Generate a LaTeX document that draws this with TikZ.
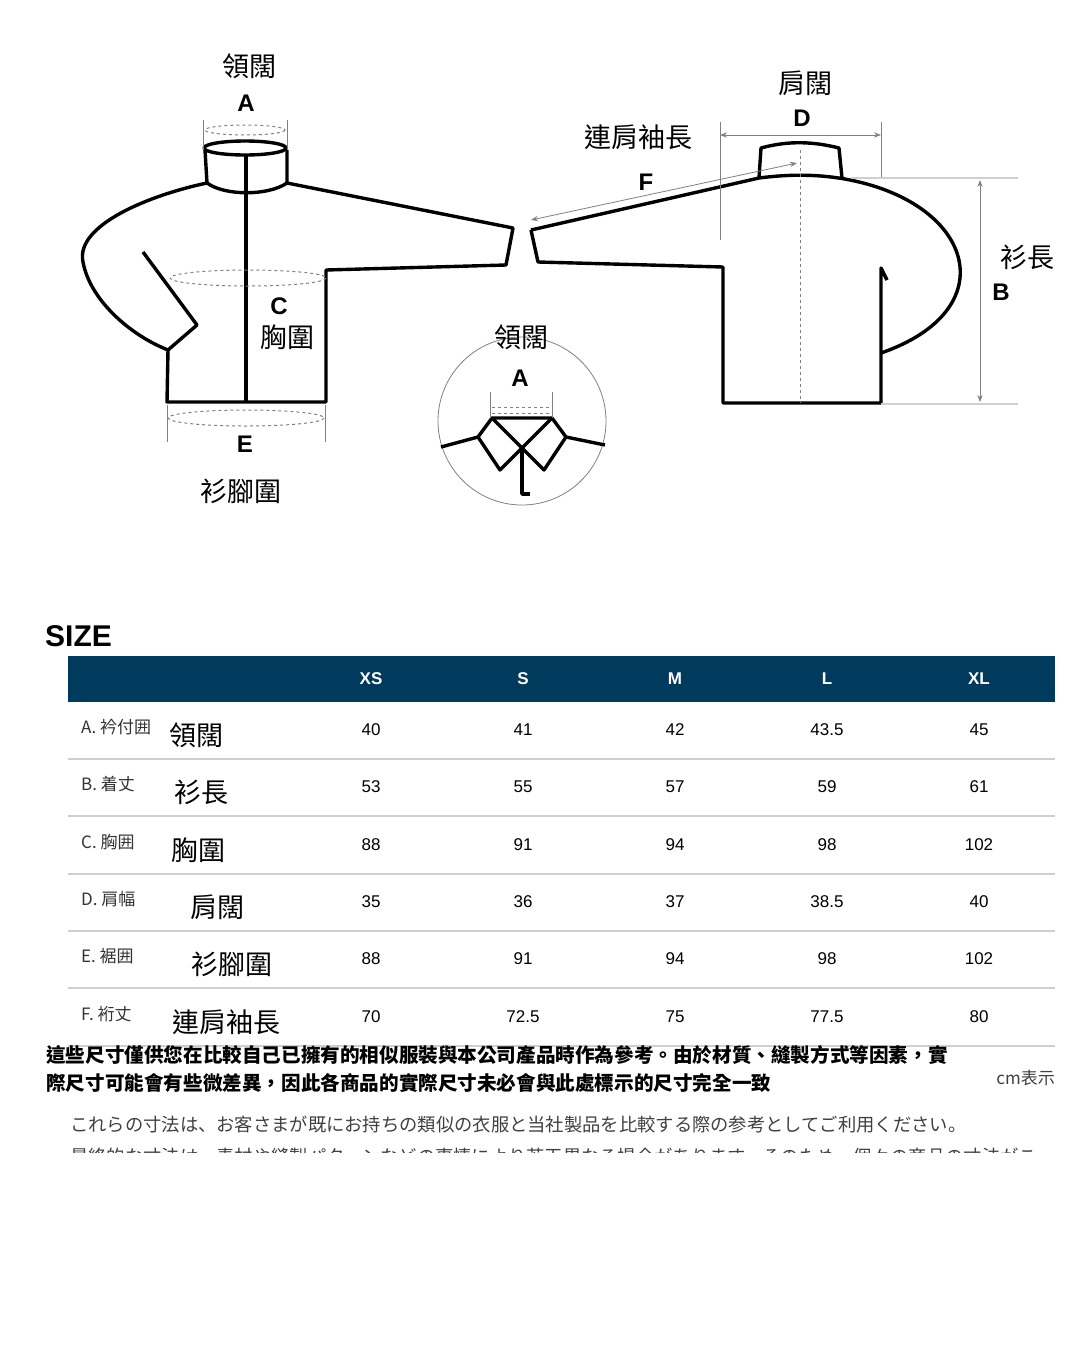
\documentclass[tikz,border=0pt]{standalone}
\usepackage{fontspec}
\setmainfont{Liberation Sans}
\newfontfamily\cjk{Noto Sans CJK TC}
\newfontfamily\cjkjp{Noto Sans CJK JP}
\usetikzlibrary{arrows.meta}
\definecolor{headblue}{HTML}{003A5C}
\definecolor{rulegray}{HTML}{CFCFCF}
\tikzset{
  outline/.style={line width=3.4pt,line join=round},
  dimline/.style={gray,line width=0.8pt},
  dashring/.style={gray,dashed,line width=1pt},
  biglab/.style={font=\cjk\fontsize{27}{27}\selectfont,inner sep=0pt},
  letter/.style={font=\bfseries\fontsize{24}{24}\selectfont,inner sep=0pt},
  cell/.style={font=\fontsize{17}{17}\selectfont,inner sep=0pt},
}
\begin{document}
\begin{tikzpicture}[x=1pt,y=-1pt]
                \useasboundingbox (0,0) rectangle (1080,1350);
                % front view
                \draw[outline] (207,183) .. controls (150,195) and (75,225) .. (83,262)
                  .. controls (90,300) and (130,335) .. (168,350) -- (197,325) -- (143,252);
                \draw[outline] (168,350) -- (167,402) -- (326,402) -- (326,270) -- (506,265) -- (513,228) -- (287,183);
                \draw[outline] (207,183) -- (205,150) (287,150) -- (287,183);
                \draw[outline] (245,148) ellipse [x radius=41,y radius=7];
                \draw[outline] (207,183) .. controls (225,196) and (268,196) .. (287,183);
                \draw[outline] (246,155) -- (246,402);
                \draw[dashring] (245,130) ellipse [x radius=40,y radius=5];
                \draw[dimline] (203,120) -- (203,150) (287,120) -- (287,150);
                \draw[dashring] (248,278) ellipse [x radius=78,y radius=8];
                \draw[dashring] (246,418) ellipse [x radius=78,y radius=8];
                \draw[dimline] (167,405) -- (167,442) (325,405) -- (325,442);
                \node[biglab] (neckA) at (249,66) {領闊};
                \node[letter] (a1) at (246,103) {A};
                \node[letter] (c1) at (279,306) {C};
                \node[biglab] (chest) at (287,337) {胸圍};
                \node[letter] (e1) at (245,444) {E};
                \node[biglab] (hem) at (241,491) {衫腳圍};
                % back view
                \draw[outline] (759,178) -- (761,148) .. controls (790,140) and (815,142) .. (839,148) -- (842,178);
                \draw[outline] (531,230) -- (759,178) .. controls (790,174) and (820,174) .. (850,180)
                  .. controls (975,205) and (1005,310) .. (881,353);
                \draw[outline] (531,230) -- (538,262) -- (723,267) -- (723,403) -- (881,403) -- (881,268) -- (887,280);
                \draw[gray,dashed,line width=1pt] (800,150) -- (800,403);
                \draw[dimline] (720,122) -- (720,240) (881,122) -- (881,178);
                \draw[dimline,{Stealth[length=7pt]}-{Stealth[length=7pt]}] (720,135) -- (881,135);
                \draw[dimline,{Stealth[length=7pt]}-{Stealth[length=7pt]}] (531,220) -- (797,163);
                \draw[rulegray,line width=1.5pt] (851,178) -- (1018,178) (881,404) -- (1018,404);
                \draw[dimline,{Stealth[length=7pt]}-{Stealth[length=7pt]}] (980,180) -- (980,402);
                \node[biglab] (shoulder) at (805,83) {肩闊};
                \node[letter] (d1) at (802,118) {D};
                \node[biglab] (sleeve) at (638,137) {連肩袖長};
                \node[letter] (f1) at (646,182) {F};
                \node[biglab] (length) at (1027,257) {衫長};
                \node[letter] (b1) at (1001,292) {B};
                % collar detail
                \draw[gray,line width=0.8pt] (522,421) circle [radius=84];
                \draw[outline] (441,447) -- (478,437) -- (492,418) -- (552,418) -- (566,437) -- (605,445);
                \draw[outline] (492,418) -- (522,448) -- (500,470) -- (478,437);
                \draw[outline] (552,418) -- (522,448) -- (544,470) -- (566,437);
                \draw[outline] (522,448) -- (522,494) -- (530,494);
                \draw[dimline] (490,392) -- (490,418) (552,392) -- (552,418);
                \draw[dashring] (492,407) -- (550,407) (492,413) -- (550,413);
                \node[biglab] (neckB) at (521,337) {領闊};
                \node[letter] (a2) at (520,378) {A};
                % size table
                \node[font=\bfseries\fontsize{30}{30}\selectfont,anchor=west,inner sep=0pt] (title) at (45,636) {SIZE};
                \fill[headblue] (68,656) rectangle (1055,702);
                \foreach \s [count=\i] in {XS,S,M,L,XL}
                  \node[cell,white,font=\bfseries\fontsize{17}{17}\selectfont] (h\i) at (219+152*\i,679) {\s};
                \foreach \y in {759,816,874,931,988,1046}
                  \draw[rulegray,line width=1.5pt] (68,\y) -- (1055,\y);
                \foreach \lab/\zh/\dx/\y/\va/\vb/\vc/\vd/\ve [count=\r] in
                  {A. 衿付囲/領闊/196/730/40/41/42/43.5/45,
                   B. 着丈/衫長/201/787/53/55/57/59/61,
                   C. 胸囲/胸圍/198/845/88/91/94/98/102,
                   D. 肩幅/肩闊/217/902/35/36/37/38.5/40,
                   E. 裾囲/衫腳圍/232/959/88/91/94/98/102,
                   F. 裄丈/連肩袖長/226/1017/70/72.5/75/77.5/80} {
                  \node[cell,anchor=west,font=\cjkjp\fontsize{17}{17}\selectfont,text=black!80] (lab\r) at (81,\y-3) {\lab};
                  \node[biglab] (zh\r) at (\dx,\y+5) {\zh};
                  \node[cell] (v\r a) at (371,\y) {\va};
                  \node[cell] (v\r b) at (523,\y) {\vb};
                  \node[cell] (v\r c) at (675,\y) {\vc};
                  \node[cell] (v\r d) at (827,\y) {\vd};
                  \node[cell] (v\r e) at (979,\y) {\ve};
                }
                % notes
                \node[anchor=west,inner sep=0pt,font=\cjk\bfseries\fontsize{19.6}{19.6}\selectfont] (note1) at (46,1055) {這些尺寸僅供您在比較自己已擁有的相似服裝與本公司產品時作為參考。由於材質、縫製方式等因素，實};
                \node[anchor=west,inner sep=0pt,font=\cjk\bfseries\fontsize{19.6}{19.6}\selectfont] (note2) at (46,1083) {際尺寸可能會有些微差異，因此各商品的實際尺寸未必會與此處標示的尺寸完全一致};
                \node[anchor=east,inner sep=0pt,font=\cjk\fontsize{17}{17}\selectfont,text=black!75] (unit) at (1055,1078) {cm表示};
                \node[anchor=west,inner sep=0pt,font=\cjkjp\fontsize{18.3}{18.3}\selectfont,text=black!75] (jp1) at (70,1125) {これらの寸法は、お客さまが既にお持ちの類似の衣服と当社製品を比較する際の参考としてご利用ください。};
                \begin{scope}
                  \clip (0,1140) rectangle (1080,1152);
                  \node[anchor=west,inner sep=0pt,font=\cjkjp\fontsize{18.3}{18.3}\selectfont,text=black!75] (jp2) at (70,1157) {最終的な寸法は、素材や縫製パターンなどの事情により若干異なる場合があります。そのため、個々の商品の寸法がこ};
                \end{scope}
            \end{tikzpicture}
\end{document}
